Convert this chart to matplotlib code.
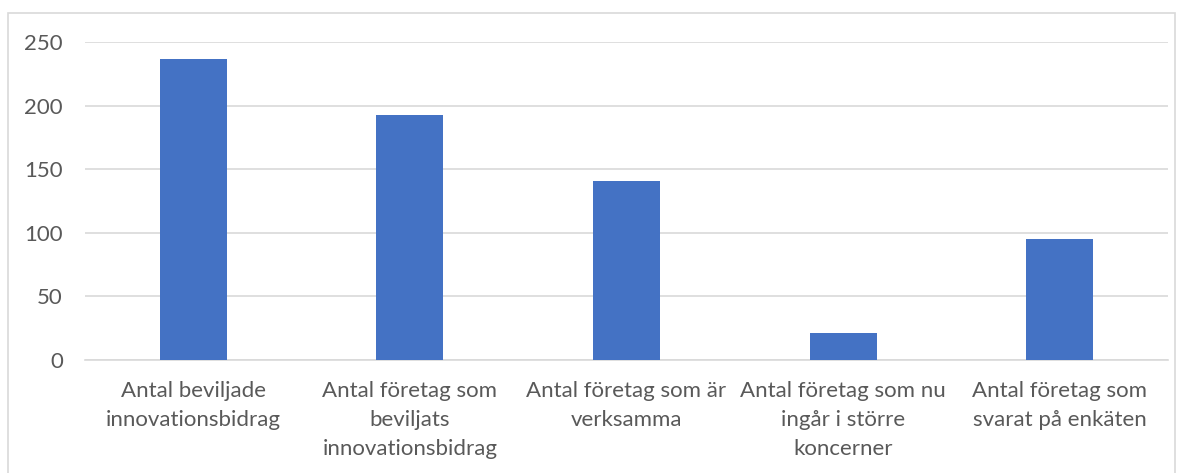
import matplotlib.pyplot as plt
from matplotlib.patches import Rectangle

categories = [
    "Antal beviljade\ninnovationsbidrag",
    "Antal företag som\nbeviljats\ninnovationsbidrag",
    "Antal företag som är\nverksamma",
    "Antal företag som nu\ningår i större\nkoncerner",
    "Antal företag som\nsvarat på enkäten",
]
values = [237, 193, 141, 21, 95]
yticks = [0, 50, 100, 150, 200, 250]

plt.rcParams['font.family'] = ['Lato', 'DejaVu Sans']

fig = plt.figure(figsize=(11.84, 4.73), dpi=100)
ax = fig.add_axes([85 / 1184, 1 - 360 / 473, (1168 - 85) / 1184, (360 - 42) / 473])

x = list(range(len(categories)))
ax.bar(x, values, width=0.31, color='#4472C4', zorder=3)

ax.set_xlim(-0.5, len(categories) - 0.5)
ax.set_ylim(0, 250)
ax.set_yticks(yticks)
ax.set_xticks(x)
ax.set_xticklabels(categories, fontsize=16, color='#595959', linespacing=1.56, va='top')
ax.tick_params(axis='y', labelsize=16, labelcolor='#595959', length=0, pad=16)
ax.tick_params(axis='x', length=0, pad=15)
ax.grid(axis='y', color='#d9d9d9', linewidth=1.2, zorder=0)
for s in ['top', 'right', 'left']:
    ax.spines[s].set_visible(False)
ax.spines['bottom'].set_color('#d9d9d9')
ax.spines['bottom'].set_linewidth(1.2)

# outer chart border
fig.patches.append(Rectangle((8 / 1184, -0.01), 1175 / 1184 - 8 / 1184, 1 - 13 / 473 + 0.01,
                             transform=fig.transFigure, fill=False,
                             edgecolor='#d9d9d9', linewidth=1.2))

fig.savefig('out.png', dpi=100)
